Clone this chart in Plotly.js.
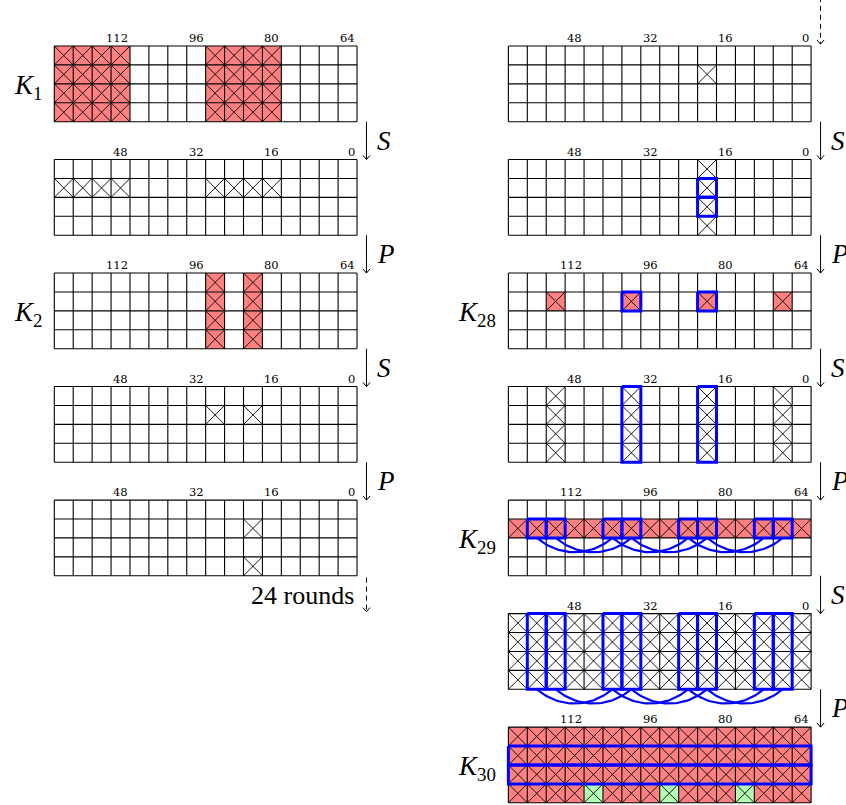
<!DOCTYPE html>
<html><head><meta charset="utf-8">
<script src="https://cdn.plot.ly/plotly-3.0.1.min.js"></script>
<style>html,body{margin:0;padding:0;background:#fff;}#chart{width:846px;height:805px;}</style>
</head><body><div id="chart"></div>
<script>
// ---------- data ----------
// placement of each 4x16 state grid: column (0 = left, 1 = right) and vertical slot
const gridColumn = [0, 0, 0, 0, 0, 1, 1, 1, 1, 1, 1, 1];
const gridSlot   = [0, 1, 2, 3, 4, 0, 1, 2, 3, 4, 5, 6];
const gridNames  = ['K<sub>1</sub>', '', 'K<sub>2</sub>', '', '', '', '', 'K<sub>28</sub>', '', 'K<sub>29</sub>', '', 'K<sub>30</sub>'];
// which bit-index labels are printed above each grid
const gridHalf   = ['high', 'low', 'high', 'low', 'low', 'low', 'low', 'high', 'low', 'high', 'low', 'high'];
const bitLabelsHigh = ['112', '96', '80', '64'];
const bitLabelsLow  = ['48', '32', '16', '0'];
// cell states per grid (4 rows of 16): '.' inactive, 'x' active, 'r' active key bit (red), 'g' green
const cells = [
  ['rrrr....rrrr....', 'rrrr....rrrr....', 'rrrr....rrrr....', 'rrrr....rrrr....'],
  ['................', 'xxxx....xxxx....', '................', '................'],
  ['........r.r.....', '........r.r.....', '........r.r.....', '........r.r.....'],
  ['................', '........x.x.....', '................', '................'],
  ['................', '..........x.....', '................', '..........x.....'],
  ['................', '..........x.....', '................', '................'],
  ['..........x.....', '..........x.....', '..........x.....', '..........x.....'],
  ['................', '..r...r...r...r.', '................', '................'],
  ['..x...x...x...x.', '..x...x...x...x.', '..x...x...x...x.', '..x...x...x...x.'],
  ['................', 'rrrrrrrrrrrrrrrr', '................', '................'],
  ['xxxxxxxxxxxxxxxx', 'xxxxxxxxxxxxxxxx', 'xxxxxxxxxxxxxxxx', 'xxxxxxxxxxxxxxxx'],
  ['rrrrrrrrrrrrrrrr', 'rrrrrrrrrrrrrrrr', 'rrrrrrrrrrrrrrrr', 'rrrrgrrrgrrrgrrr']
];
// blue highlight boxes per grid: [col0, row0, col1, row1] (inclusive cells)
const highlights = [
  [], [], [], [], [], [],
  [[10, 1, 10, 1], [10, 2, 10, 2]],
  [[6, 1, 6, 1], [10, 1, 10, 1]],
  [[6, 0, 6, 3], [10, 0, 10, 3]],
  [[1, 1, 1, 1], [2, 1, 2, 1], [5, 1, 5, 1], [6, 1, 6, 1], [9, 1, 9, 1], [10, 1, 10, 1], [13, 1, 13, 1], [14, 1, 14, 1]],
  [[1, 0, 1, 3], [2, 0, 2, 3], [5, 0, 5, 3], [6, 0, 6, 3], [9, 0, 9, 3], [10, 0, 10, 3], [13, 0, 13, 3], [14, 0, 14, 3]],
  [[0, 1, 15, 1], [0, 2, 15, 2]]
];
// blue arcs: [grid, row whose bottom they hang from, fromCol, toCol]
const arcs = [
  [9, 1, 1, 5], [9, 1, 2, 6], [9, 1, 5, 9], [9, 1, 6, 10], [9, 1, 9, 13], [9, 1, 10, 14],
  [10, 3, 1, 5], [10, 3, 2, 6], [10, 3, 5, 9], [10, 3, 6, 10], [10, 3, 9, 13], [10, 3, 10, 14]
];
// operations between consecutive grids of a column: [fromGrid, label]
const steps = [[0, 'S'], [1, 'P'], [2, 'S'], [3, 'P'], [5, 'S'], [6, 'P'], [7, 'S'], [8, 'P'], [9, 'S'], [10, 'P']];
const skipText = '24 rounds';

// ---------- geometry (cell units) ----------
const COLS = 16, ROWS = 4, COL_STEP = 24, SLOT_STEP = 6;
const gx = g => gridColumn[g] * COL_STEP;
const gy = g => gridSlot[g] * SLOT_STEP;

const traces = [];
function poly(color) { return {x: [], y: [], mode: 'lines', fill: 'toself', fillcolor: color, line: {width: 0, color: color}, hoverinfo: 'skip'}; }
const red = poly('#FF8080'), green = poly('#B3FFB3');
const cross = {x: [], y: [], mode: 'lines', line: {color: '#000', width: 0.9}, hoverinfo: 'skip'};
const grid = {x: [], y: [], mode: 'lines', line: {color: '#000', width: 1.1}, hoverinfo: 'skip'};
const blue = {x: [], y: [], mode: 'lines', line: {color: '#0000FF', width: 3}, hoverinfo: 'skip'};
const arcT = {x: [], y: [], mode: 'lines', line: {color: '#0000FF', width: 2.2}, hoverinfo: 'skip'};
const arrowT = {x: [], y: [], mode: 'lines', line: {color: '#000', width: 1}, hoverinfo: 'skip'};
const dashT = {x: [], y: [], mode: 'lines', line: {color: '#000', width: 1, dash: '5px,4px'}, hoverinfo: 'skip'};

function seg(t, xs, ys) { t.x.push(...xs, null); t.y.push(...ys, null); }

cells.forEach((rows, g) => {
  const X = gx(g), Y = gy(g);
  rows.forEach((str, r) => {
    [...str].forEach((ch, c) => {
      const x = X + c, y = Y + r;
      if (ch === 'r') seg(red, [x, x + 1, x + 1, x, x], [y, y, y + 1, y + 1, y]);
      if (ch === 'g') seg(green, [x, x + 1, x + 1, x, x], [y, y, y + 1, y + 1, y]);
      if (ch !== '.') { seg(cross, [x, x + 1], [y, y + 1]); seg(cross, [x + 1, x], [y, y + 1]); }
    });
  });
  for (let r = 0; r <= ROWS; r++) seg(grid, [X, X + COLS], [Y + r, Y + r]);
  for (let c = 0; c <= COLS; c++) seg(grid, [X + c, X + c], [Y, Y + ROWS]);
});

highlights.forEach((list, g) => {
  list.forEach(([c0, r0, c1, r1]) => {
    const x0 = gx(g) + c0, x1 = gx(g) + c1 + 1, y0 = gy(g) + r0, y1 = gy(g) + r1 + 1;
    seg(blue, [x0, x1, x1, x0, x0], [y0, y0, y1, y1, y0]);
  });
});

arcs.forEach(([g, r, c0, c1]) => {
  const xs = gx(g) + c0 + 0.5, xe = gx(g) + c1 + 0.5, yb = gy(g) + r + 1;
  const L = xe - xs, k = 0.3915 * L, a = 40 * Math.PI / 180;
  const p = [[xs, yb], [xs + k * Math.cos(a), yb + k * Math.sin(a)], [xe - k * Math.cos(a), yb + k * Math.sin(a)], [xe, yb]];
  const px = [], py = [];
  for (let i = 0; i <= 40; i++) {
    const t = i / 40, u = 1 - t;
    px.push(u*u*u*p[0][0] + 3*u*u*t*p[1][0] + 3*u*t*t*p[2][0] + t*t*t*p[3][0]);
    py.push(u*u*u*p[0][1] + 3*u*u*t*p[1][1] + 3*u*t*t*p[2][1] + t*t*t*p[3][1]);
  }
  seg(arcT, px, py);
});

const annotations = [];
const SERIF = '"Liberation Serif", "DejaVu Serif", "Times New Roman", Times, serif';
const bigFont = {family: SERIF, size: 27, color: '#000'};
function head(ax, tip) { seg(arrowT, [ax - 0.19, ax, ax + 0.19], [tip - 0.22, tip, tip - 0.22]); }

steps.forEach(([g, label]) => {
  const ax = gx(g) + COLS + 0.5, y0 = gy(g) + ROWS, y1 = gy(g) + SLOT_STEP;
  seg(arrowT, [ax, ax], [y0, y1]);
  head(ax, y1);
  annotations.push({x: ax + 0.45, y: y0 + 1, xref: 'x', yref: 'y', xanchor: 'left', yanchor: 'middle', showarrow: false,
    text: '<i>' + label + '</i>', font: bigFont});
});

// dashed "continue" arrows
{
  const ax = COLS + 0.5, y0 = gy(4) + ROWS, y1 = gy(4) + SLOT_STEP;
  seg(dashT, [ax, ax], [y0 + 0.1, y1 - 0.1]);
  head(ax, y1 - 0.1);
  annotations.push({x: ax - 0.55, y: y0 + 1.05, xref: 'x', yref: 'y', xanchor: 'right', yanchor: 'middle', showarrow: false,
    text: skipText, font: {family: SERIF, size: 26, color: '#000'}});
  const bx = COL_STEP + COLS + 0.5;
  seg(dashT, [bx, bx], [gy(5) - 2.6, gy(5) - 0.1]);
  head(bx, gy(5) - 0.1);
}

cells.forEach((rows, g) => {
  const labels = gridHalf[g] === 'high' ? bitLabelsHigh : bitLabelsLow;
  labels.forEach((t, i) => {
    annotations.push({x: gx(g) + 4 * (i + 1), y: gy(g) - 0.42, xref: 'x', yref: 'y', xanchor: 'right', yanchor: 'middle',
      showarrow: false, text: t, font: {family: '"DejaVu Serif", serif', size: 11.5, color: '#000'}});
  });
  if (gridNames[g]) {
    annotations.push({x: gx(g) - 0.55, y: gy(g) + 2.15, xref: 'x', yref: 'y', xanchor: 'right', yanchor: 'middle',
      showarrow: false, text: '<i>' + gridNames[g].replace('<sub>', '</i><sub>'), font: bigFont});
  }
});

traces.push(red, green, cross, grid, blue, arcT, arrowT, dashT);

const S = 18.92, OX = 54.3, OY = 46;
const layout = {
  width: 846, height: 805, autosize: false,
  margin: {l: 0, r: 0, t: 0, b: 0, pad: 0},
  paper_bgcolor: '#fff', plot_bgcolor: '#fff',
  showlegend: false, hovermode: false,
  font: {family: SERIF},
  xaxis: {range: [-OX / S, (846 - OX) / S], visible: false, fixedrange: true},
  yaxis: {range: [(805 - OY) / S, -OY / S], visible: false, fixedrange: true},
  annotations: annotations
};
Plotly.newPlot('chart', traces, layout, {staticPlot: true, displayModeBar: false});
</script></body></html>
